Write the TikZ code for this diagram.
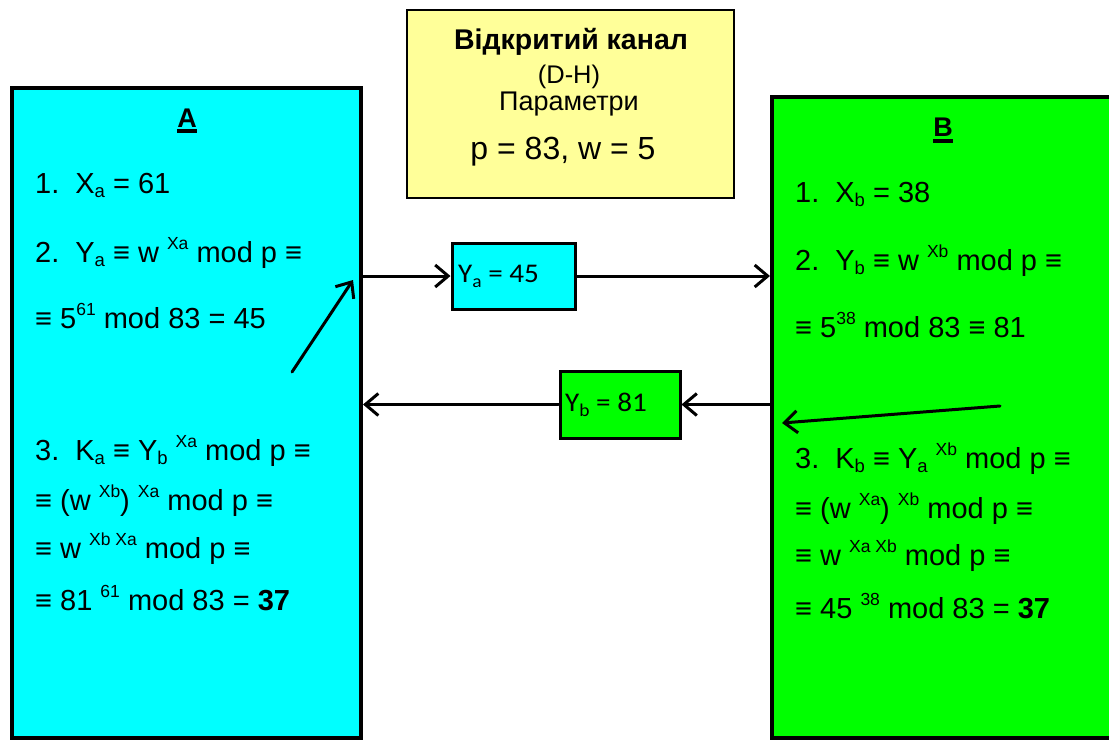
\documentclass[tikz,border=0pt]{standalone}
\usepackage{fontspec}
\setmainfont{Liberation Sans}
\newfontfamily\calibrifont{Carlito}[FakeStretch=1.08]
\usetikzlibrary{arrows.meta}
\definecolor{partyA}{HTML}{00FFFF}
\definecolor{partyB}{HTML}{00FF00}
\definecolor{notefill}{HTML}{FFFF99}
% raised exponent and lowered index
\newcommand\upidx[1]{\raisebox{12.5pt}{\fontsize{17.5}{17.5}\selectfont #1}}
\newcommand\dnidx[1]{\raisebox{-4pt}{\fontsize{18.5}{18.5}\selectfont #1}}
\newcommand\stepno[1]{#1.\hspace{16pt}}
\begin{document}
\begin{tikzpicture}[x=1pt,y=-1pt,
  party/.style={draw=black, line width=4pt, anchor=north west, inner sep=0pt},
  msgbox/.style={draw=black, line width=3pt, anchor=north west, inner sep=0pt},
  txt/.style={anchor=base west, inner sep=0pt, font=\fontsize{29}{32}\selectfont},
  hdr/.style={anchor=base, inner sep=0pt, font=\fontsize{27}{30}\selectfont\bfseries},
  ttl/.style={anchor=base, inner sep=0pt},
  lbl/.style={anchor=base west, inner sep=0pt, font=\fontsize{27}{30}\selectfont\calibrifont},
  arr/.style={line width=3pt, -{Straight Barb[length=13pt, width=22pt]}, line cap=round, line join=round}]
\useasboundingbox (0,0) rectangle (1109,740);
\clip (0,0) rectangle (1109,740);

% public channel parameters
\node[draw=black, line width=1.5pt, fill=notefill, anchor=north west, inner sep=0pt,
      minimum width=327pt, minimum height=188pt] (pub) at (406.25,9.25) {};
\node[ttl, font=\fontsize{28.5}{30}\selectfont\bfseries] (t1) at (571,49) {Відкритий канал};
\node[ttl, font=\fontsize{25.5}{28}\selectfont] (t2) at (569,83) {(D-H)};
\node[ttl, font=\fontsize{27}{30}\selectfont] (t3) at (569,110) {Параметри};
\node[ttl, font=\fontsize{32}{34}\selectfont] (t4) at (563,159) {p = 83, w = 5};

% party A
\node[party, fill=partyA, minimum width=349pt, minimum height=650pt] (A) at (10,86) {};
\node[hdr] (alab) at (187,127) {A};
\draw[line width=3.5pt] ([yshift=-4pt]alab.base west) -- ([yshift=-4pt]alab.base east);
\node[txt] (a1) at (35,193) {\stepno{1}X\dnidx{a} = 61};
\node[txt] (a2) at (35,262) {\stepno{2}Y\dnidx{a} ≡ w \upidx{Xa} mod p ≡};
\node[txt] (a3) at (35,328) {≡ 5\upidx{61} mod 83 = 45};
\node[txt] (a4) at (35,460) {\stepno{3}K\dnidx{a} ≡ Y\dnidx{b} \upidx{Xa} mod p ≡};
\node[txt] (a5) at (35,510) {≡ (w \upidx{Xb}) \upidx{Xa} mod p ≡};
\node[txt] (a6) at (35,558) {≡ w \upidx{Xb Xa} mod p ≡};
\node[txt] (a7) at (35,610) {≡ 81 \upidx{61} mod 83 = \textbf{37}};

% party B
\node[party, fill=partyB, minimum width=342pt, minimum height=641.5pt] (B) at (770,94.5) {};
\node[hdr] (blab) at (943,136) {B};
\draw[line width=3.5pt] ([yshift=-5pt]blab.base west) -- ([yshift=-5pt]blab.base east);
\node[txt] (b1) at (795,202) {\stepno{1}X\dnidx{b} = 38};
\node[txt] (b2) at (795,270) {\stepno{2}Y\dnidx{b} ≡ w \upidx{Xb} mod p ≡};
\node[txt] (b3) at (795,337) {≡ 5\upidx{38} mod 83 ≡ 81};
\node[txt] (b4) at (795,468) {\stepno{3}K\dnidx{b} ≡ Y\dnidx{a} \upidx{Xb} mod p ≡};
\node[txt] (b5) at (795,518) {≡ (w \upidx{Xa}) \upidx{Xb} mod p ≡};
\node[txt] (b6) at (795,565) {≡ w \upidx{Xa Xb} mod p ≡};
\node[txt] (b7) at (795,618) {≡ 45 \upidx{38} mod 83 = \textbf{37}};

% exchanged public values
\node[msgbox, fill=partyA, minimum width=123pt, minimum height=66pt] (ya) at (450.5,241.5) {};
\node[lbl] (yatext) at (458,282) {Y\raisebox{-5pt}{\fontsize{18}{18}\selectfont a} = 45};
\node[msgbox, fill=partyB, minimum width=120pt, minimum height=67pt] (yb) at (558.5,369.5) {};
\node[lbl] (ybtext) at (565,411) {Y\raisebox{-5pt}{\fontsize{18}{18}\selectfont b} = 81};

\draw[arr] (A.east |- ya.west) -- (ya.west);
\draw[arr] (ya.east) -- (B.west |- ya.east);
\draw[arr] (B.west |- yb.east) -- (yb.east);
\draw[arr] (yb.west) -- (A.east |- yb.west);

% sending and receiving hints
\coordinate (asend) at (292,372);
\coordinate (aout) at (353,280);
\coordinate (brecv) at (1000,406);
\coordinate (bin) at (782,423);
\draw[arr] (asend) -- (aout);
\draw[arr] (brecv) -- (bin);
\end{tikzpicture}
\end{document}
